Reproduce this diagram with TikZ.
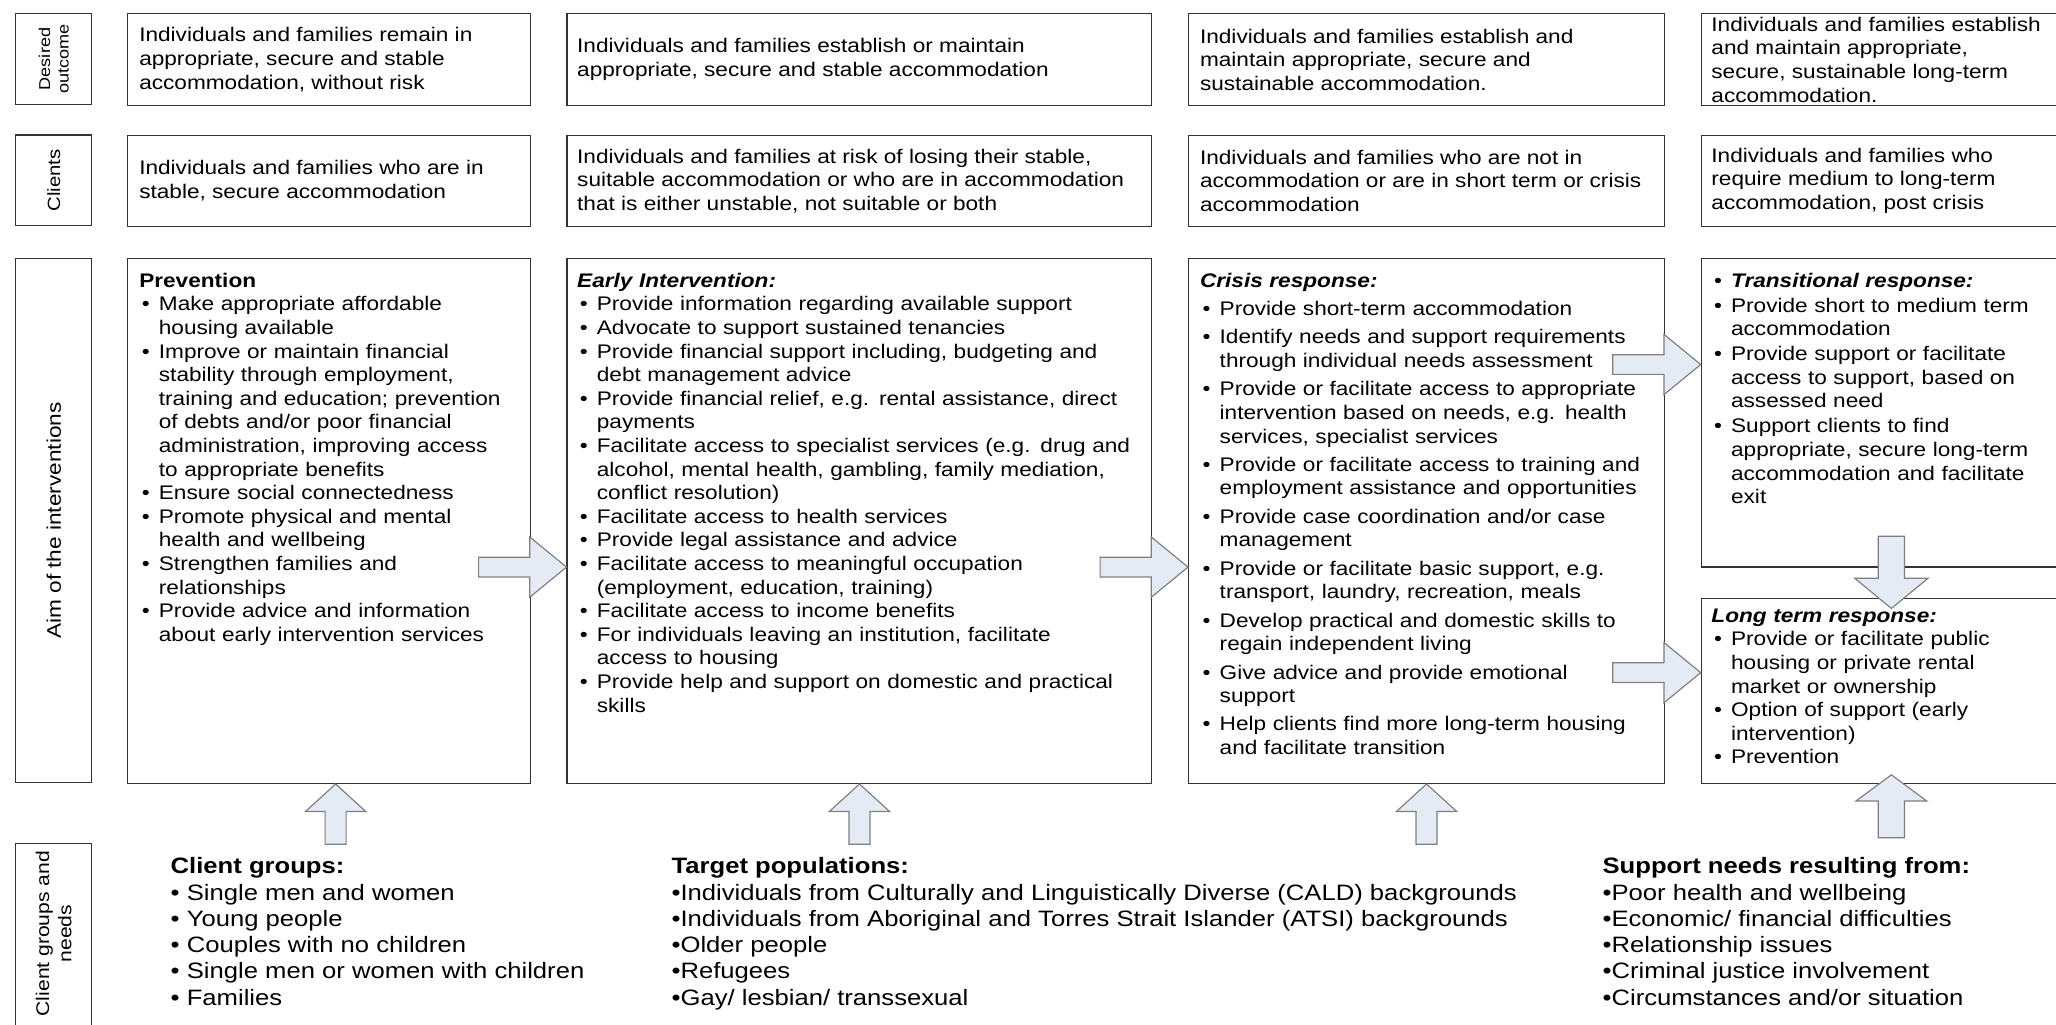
\documentclass[tikz,border=0pt]{standalone}
\usepackage{fontspec}
\setmainfont{Liberation Sans}[FakeStretch=1.15]
\usetikzlibrary{positioning,calc}

\definecolor{arrowfill}{HTML}{E5EBF5}
\definecolor{arrowline}{HTML}{7F7F7F}
\definecolor{boxline}{HTML}{333333}

\newcommand{\bitem}[1]{\par\hangindent=15pt\hangafter=1\noindent\makebox[15pt][l]{\hspace{2pt}\textbullet}#1}

\tikzset{
    box/.style={draw=boxline, line width=0.9pt, anchor=north west, inner sep=0pt},
    sidebox/.style={draw=boxline, line width=0.9pt, rotate=90, align=center, inner sep=0pt},
    celltext/.style={anchor=west, align=left, inner sep=0pt, font=\fontsize{15}{18}\selectfont},
    listtext/.style={anchor=north west, align=left, inner sep=0pt, font=\fontsize{15}{18}\selectfont},
    bottomtext/.style={anchor=north west, align=left, inner sep=0pt, font=\fontsize{17}{20}\selectfont},
    pics/blockarrow/.style n args={4}{code={
        \draw[draw=arrowline, fill=arrowfill, line width=0.9pt]
            (0,0) -- (-#2,-#3) -- (-#2,-#4) -- (-#1,-#4) -- (-#1,#4) -- (-#2,#4) -- (-#2,#3) -- cycle;
    }}
}

\begin{document}
\begin{tikzpicture}[x=1pt, y=-1pt]
\useasboundingbox (0,0) rectangle (1568,781);

% row labels
\node[sidebox, minimum width=70, minimum height=58, font=\fontsize{12}{14}\selectfont] (sout) at (41,45) {Desired\\outcome};
\node[sidebox, minimum width=69, minimum height=58, font=\fontsize{13.5}{16}\selectfont] (scli) at (41,137.5) {Clients};
\node[sidebox, minimum width=400, minimum height=58, font=\fontsize{15}{18}\selectfont] (saim) at (41,397) {Aim of the interventions};
\node[sidebox, minimum width=160, minimum height=58] (sgrp) at (41,723) {};
\node[rotate=90, align=center, font=\fontsize{14}{17}\selectfont] (sgrpt) at (41,712) {Client groups and\\needs};

% desired outcome
\node[box, minimum width=307, minimum height=70] (out1) at (97,10) {};
\node[box, minimum width=446, minimum height=70] (out2) at (432,10) {};
\node[box, minimum width=363, minimum height=70] (out3) at (906,10) {};
\node[box, minimum width=290, minimum height=70] (out4) at (1297,10) {};
\node[celltext] (out1t) at ($(out1.west)+(9,0)$) {Individuals and families remain in\\appropriate, secure and stable\\accommodation, without risk};
\node[celltext] (out2t) at ($(out2.west)+(8,0)$) {Individuals and families establish or maintain\\appropriate, secure and stable accommodation};
\node[celltext] (out3t) at ($(out3.west)+(9,0)$) {Individuals and families establish and\\maintain appropriate, secure and\\sustainable accommodation.};
\node[celltext] (out4t) at ($(out4.west)+(8,0)$) {Individuals and families establish\\and maintain appropriate,\\secure, sustainable long-term\\accommodation.};

% clients
\node[box, minimum width=307, minimum height=69] (cli1) at (97,103) {};
\node[box, minimum width=446, minimum height=69] (cli2) at (432,103) {};
\node[box, minimum width=363, minimum height=69] (cli3) at (906,103) {};
\node[box, minimum width=290, minimum height=69] (cli4) at (1297,103) {};
\node[celltext] (cli1t) at ($(cli1.west)+(9,0)$) {Individuals and families who are in\\stable, secure accommodation};
\node[celltext] (cli2t) at ($(cli2.west)+(8,0)$) {Individuals and families at risk of losing their stable,\\suitable accommodation or who are in accommodation\\that is either unstable, not suitable or both};
\node[celltext] (cli3t) at ($(cli3.west)+(9,0)$) {Individuals and families who are not in\\accommodation or are in short term or crisis\\accommodation};
\node[celltext] (cli4t) at ($(cli4.west)+(8,0)$) {Individuals and families who\\require medium to long-term\\accommodation, post crisis};

% aims
\node[box, minimum width=307, minimum height=400] (aim1) at (97,197) {};
\node[box, minimum width=446, minimum height=400] (aim2) at (432,197) {};
\node[box, minimum width=363, minimum height=400] (aim3) at (906,197) {};
\node[box, minimum width=290, minimum height=235] (aim4a) at (1297,197) {};
\node[box, minimum width=290, minimum height=141] (aim4b) at (1297,456) {};

\node[listtext, text width=330] (aim1t) at ($(aim1.north west)+(9,11)$) {\noindent\textbf{Prevention}
\bitem{Make appropriate affordable\newline housing available}
\bitem{Improve or maintain financial\newline stability through employment,\newline training and education; prevention\newline of debts and/or poor financial\newline administration, improving access\newline to appropriate benefits}
\bitem{Ensure social connectedness}
\bitem{Promote physical and mental\newline health and wellbeing}
\bitem{Strengthen families and\newline relationships}
\bitem{Provide advice and information\newline about early intervention services}\par};

\node[listtext, text width=480] (aim2t) at ($(aim2.north west)+(8,11)$) {\noindent\textbf{\textit{Early Intervention:}}
\bitem{Provide information regarding available support}
\bitem{Advocate to support sustained tenancies}
\bitem{Provide financial support including, budgeting and\newline debt management advice}
\bitem{Provide financial relief, e.g. rental assistance, direct\newline payments}
\bitem{Facilitate access to specialist services (e.g. drug and\newline alcohol, mental health, gambling, family mediation,\newline conflict resolution)}
\bitem{Facilitate access to health services}
\bitem{Provide legal assistance and advice}
\bitem{Facilitate access to meaningful occupation\newline (employment, education, training)}
\bitem{Facilitate access to income benefits}
\bitem{For individuals leaving an institution, facilitate\newline access to housing}
\bitem{Provide help and support on domestic and practical\newline skills}\par};

\node[listtext, text width=400] (aim3t) at ($(aim3.north west)+(9,11)$) {\setlength{\parskip}{3.6pt}\noindent\textbf{\textit{Crisis response:}}
\bitem{Provide short-term accommodation}
\bitem{Identify needs and support requirements\newline through individual needs assessment}
\bitem{Provide or facilitate access to appropriate\newline intervention based on needs, e.g. health\newline services, specialist services}
\bitem{Provide or facilitate access to training and\newline employment assistance and opportunities}
\bitem{Provide case coordination and/or case\newline management}
\bitem{Provide or facilitate basic support, e.g.\newline transport, laundry, recreation, meals}
\bitem{Develop practical and domestic skills to\newline regain independent living}
\bitem{Give advice and provide emotional\newline support}
\bitem{Help clients find more long-term housing\newline and facilitate transition}\par};

\node[listtext, text width=300] (aim4at) at ($(aim4a.north west)+(8,11)$) {\setlength{\parskip}{1pt}\noindent\makebox[15pt][l]{\hspace{2pt}\textbullet}\textbf{\textit{Transitional response:}}
\bitem{Provide short to medium term\newline accommodation}
\bitem{Provide support or facilitate\newline access to support, based on\newline assessed need}
\bitem{Support clients to find\newline appropriate, secure long-term\newline accommodation and facilitate\newline exit}\par};

\node[listtext, text width=300] (aim4bt) at ($(aim4b.north west)+(8,8)$) {\noindent\textbf{\textit{Long term response:}}
\bitem{Provide or facilitate public\newline housing or private rental\newline market or ownership}
\bitem{Option of support (early\newline intervention)}
\bitem{Prevention}\par};

% arrows
\pic at ($(aim2.north west)+(0,235.5)$) {blockarrow={67}{28}{23}{7.5}};
\pic at ($(aim3.north west)+(0,235.5)$) {blockarrow={67}{28}{23}{7.5}};
\pic at ($(aim4a.north west)+(0,81)$) {blockarrow={67}{28}{23}{7.5}};
\pic at ($(aim4b.north west)+(0,57)$) {blockarrow={67}{28}{23}{7.5}};
\pic[rotate=-90] at ($(aim4b.north)+(0,8)$) {blockarrow={55}{23}{28}{10}};
\pic[rotate=90] at ($(aim1.south)+(5,0)$) {blockarrow={46}{21}{23}{8}};
\pic[rotate=90] at (aim2.south) {blockarrow={46}{21}{23}{8}};
\pic[rotate=90] at (aim3.south) {blockarrow={46}{21}{23}{8}};
\pic[rotate=90] at ($(aim4b.south)+(0,-7)$) {blockarrow={48}{20}{27}{10}};

% client groups and needs
\node[bottomtext] (grps) at (130,654) {\textbf{Client groups:}\\\textbullet{} Single men and women\\\textbullet{} Young people\\\textbullet{} Couples with no children\\\textbullet{} Single men or women with children\\\textbullet{} Families};
\node[bottomtext] (pops) at (512,654) {\textbf{Target populations:}\\\textbullet Individuals from Culturally and Linguistically Diverse (CALD) backgrounds\\\textbullet Individuals from Aboriginal and Torres Strait Islander (ATSI) backgrounds\\\textbullet Older people\\\textbullet Refugees\\\textbullet Gay/ lesbian/ transsexual};
\node[bottomtext] (needs) at (1222,654) {\textbf{Support needs resulting from:}\\\textbullet Poor health and wellbeing\\\textbullet Economic/ financial difficulties\\\textbullet Relationship issues\\\textbullet Criminal justice involvement\\\textbullet Circumstances and/or situation};
\end{tikzpicture}
\end{document}
